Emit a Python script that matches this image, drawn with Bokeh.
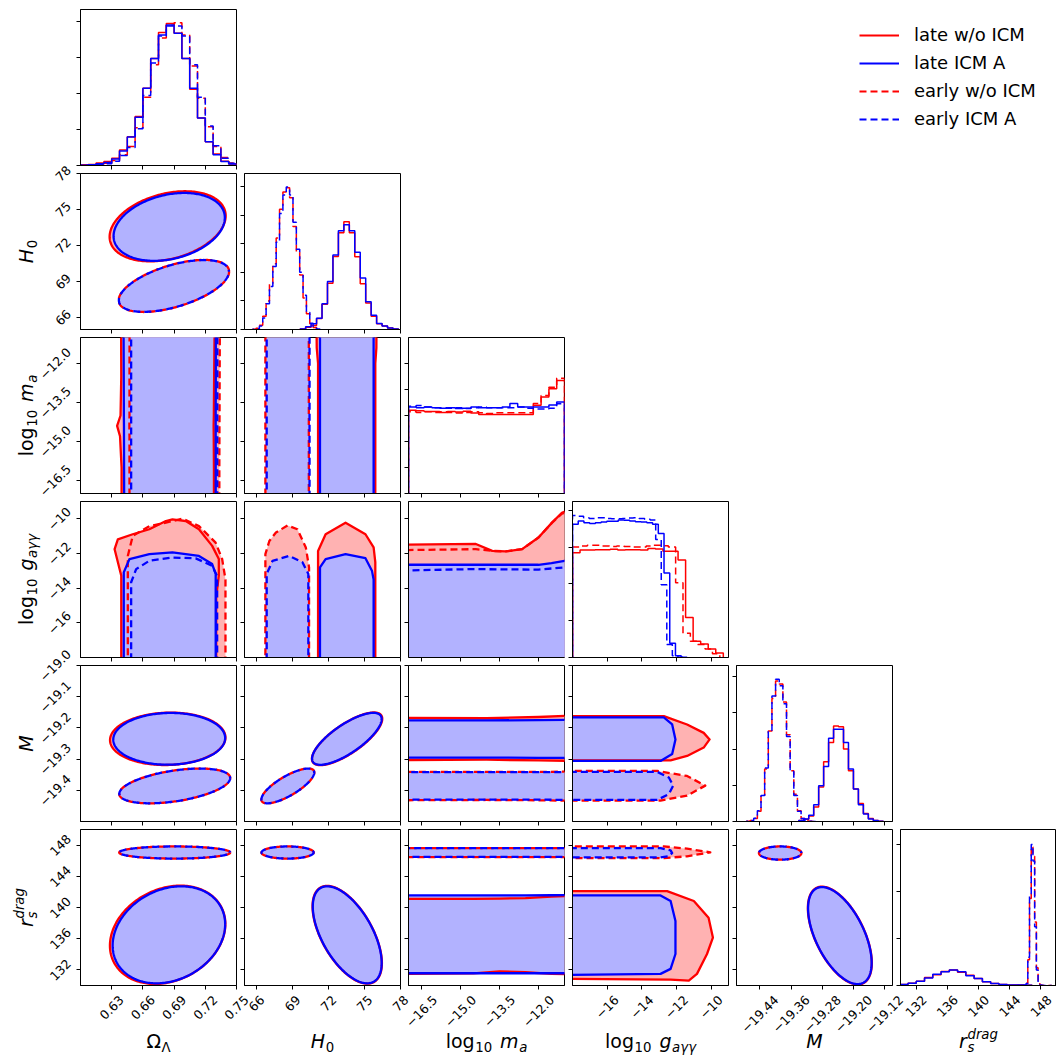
import math
import numpy as np
from bokeh.plotting import figure
from bokeh.models import Range1d, FixedTicker, Legend, LegendItem
from bokeh.core.properties import value
from bokeh.layouts import column, row
from bokeh.embed import file_html
from bokeh.resources import INLINE

# ----------------------------------------------------------------- axes data
om_range = [0.60, 0.75]
h0_range = [65.0, 78.0]
ma_range = [-17.0, -11.0]
g_range = [-18.0, -9.0]
M_row_range = [-19.5, -19.0]
M_col_range = [-19.5, -19.1]
rs_range = [130.0, 150.0]

om_ticks = [0.63, 0.66, 0.69, 0.72, 0.75]
om_tick_labels = ["0.63", "0.66", "0.69", "0.72", "0.75"]
h0_ticks = [66, 69, 72, 75, 78]
h0_tick_labels = ["66", "69", "72", "75", "78"]
ma_ticks = [-16.5, -15.0, -13.5, -12.0]
ma_tick_labels = ["\u221216.5", "\u221215.0", "\u221213.5", "\u221212.0"]
g_ticks = [-16, -14, -12, -10]
g_tick_labels = ["\u221216", "\u221214", "\u221212", "\u221210"]
M_row_ticks = [-19.4, -19.3, -19.2, -19.1, -19.0]
M_row_tick_labels = ["\u221219.4", "\u221219.3", "\u221219.2", "\u221219.1", "\u221219.0"]
M_col_ticks = [-19.44, -19.36, -19.28, -19.20, -19.12]
M_col_tick_labels = ["\u221219.44", "\u221219.36", "\u221219.28", "\u221219.20", "\u221219.12"]
rs_ticks = [132, 136, 140, 144, 148]
rs_tick_labels = ["132", "136", "140", "144", "148"]

legend_labels = ["late w/o ICM", "late ICM A", "early w/o ICM", "early ICM A"]

# ------------------------------------------------------------ 1D histograms
# (start, bin width, heights) ; heights in units of the unlabeled y ticks
om_hist_late_red = (0.60, 0.0075, [0.02, 0.03, 0.07, 0.11, 0.20, 0.43, 0.80, 1.36, 2.15, 2.98, 3.70, 3.95, 3.68, 2.98, 2.12, 1.32, 0.66, 0.32, 0.12, 0.04])
om_hist_late_blue = (0.60, 0.0075, [0.01, 0.02, 0.05, 0.08, 0.18, 0.40, 0.79, 1.34, 2.15, 2.98, 3.63, 3.91, 3.68, 2.98, 2.15, 1.32, 0.66, 0.30, 0.11, 0.04])
om_hist_early_red = (0.60, 0.0075, [0.01, 0.02, 0.04, 0.06, 0.14, 0.30, 0.53, 1.05, 1.90, 2.80, 3.55, 3.90, 3.97, 3.63, 2.77, 1.87, 1.08, 0.53, 0.22, 0.07])
om_hist_early_blue = (0.60, 0.0075, [0.01, 0.02, 0.03, 0.05, 0.12, 0.28, 0.50, 1.02, 1.95, 2.85, 3.60, 3.88, 3.88, 3.60, 2.80, 1.90, 1.10, 0.55, 0.20, 0.06])

h0_hist_late_red = (69.64, 0.455, [0.02, 0.08, 0.14, 0.38, 0.88, 1.62, 2.55, 3.38, 3.76, 3.38, 2.54, 1.60, 0.93, 0.46, 0.20, 0.12, 0.05, 0.02])
h0_hist_late_blue = (69.64, 0.455, [0.02, 0.10, 0.20, 0.39, 0.90, 1.68, 2.60, 3.45, 3.66, 3.45, 2.70, 1.80, 0.97, 0.50, 0.21, 0.12, 0.05, 0.02])
h0_hist_early_red = (65.68, 0.28, [0.01, 0.04, 0.15, 0.46, 1.00, 1.60, 2.30, 3.20, 4.20, 4.80, 4.95, 4.60, 3.60, 2.70, 1.90, 1.10, 0.55, 0.20, 0.07, 0.02])
h0_hist_early_blue = (65.68, 0.28, [0.01, 0.03, 0.12, 0.40, 0.90, 1.50, 2.20, 3.05, 4.05, 4.70, 4.98, 4.70, 3.75, 2.80, 2.00, 1.20, 0.60, 0.22, 0.08, 0.02])

ma_hist_late_red = (-17.0, 0.3, [3.20, 3.18, 3.15, 3.15, 3.12, 3.15, 3.13, 3.16, 3.10, 3.04, 3.04, 3.04, 3.04, 3.04, 3.04, 3.04, 3.39, 3.71, 4.03, 4.35])
ma_hist_late_blue = (-17.0, 0.3, [3.33, 3.30, 3.33, 3.30, 3.28, 3.30, 3.27, 3.28, 3.33, 3.30, 3.30, 3.30, 3.33, 3.46, 3.33, 3.33, 3.33, 3.33, 3.40, 3.52])
ma_hist_early_red = (-17.0, 0.3, [3.14, 3.12, 3.14, 3.12, 3.14, 3.12, 3.10, 3.12, 3.14, 3.11, 3.08, 3.11, 3.11, 3.11, 3.11, 3.11, 3.46, 3.77, 4.09, 4.43])
ma_hist_early_blue = (-17.0, 0.3, [3.36, 3.38, 3.33, 3.30, 3.30, 3.28, 3.30, 3.27, 3.30, 3.33, 3.30, 3.30, 3.30, 3.30, 3.33, 3.28, 3.25, 3.25, 3.28, 3.45])

g_hist_late_red = (-18.0, 0.435, [2.85, 2.92, 2.92, 2.93, 2.93, 2.94, 2.92, 2.93, 2.93, 2.92, 2.96, 2.95, 2.89, 2.89, 2.65, 1.09, 0.44, 0.37, 0.23, 0.12])
g_hist_late_blue = (-18.0, 0.33, [3.62, 3.71, 3.66, 3.64, 3.66, 3.68, 3.70, 3.70, 3.74, 3.73, 3.71, 3.69, 3.68, 3.66, 3.62, 3.37, 2.30, 0.39, 0.05, 0.01])
g_hist_early_red = (-18.0, 0.425, [3.00, 3.03, 3.05, 3.05, 3.03, 3.02, 3.03, 3.02, 3.00, 3.00, 3.03, 3.05, 3.04, 3.00, 2.03, 0.66, 0.44, 0.35, 0.23, 0.10])
g_hist_early_blue = (-18.0, 0.32, [3.86, 3.84, 3.80, 3.78, 3.80, 3.80, 3.78, 3.77, 3.77, 3.78, 3.79, 3.80, 3.78, 3.76, 3.74, 3.21, 1.98, 0.35, 0.05, 0.01])

M_hist_late_red = (-19.3403, 0.01274, [0.03, 0.06, 0.15, 0.40, 0.95, 1.65, 2.18, 2.64, 2.62, 2.00, 1.40, 0.90, 0.50, 0.22, 0.08, 0.03, 0.01])
M_hist_late_blue = (-19.3403, 0.01274, [0.03, 0.07, 0.17, 0.46, 0.99, 1.52, 2.30, 2.55, 2.55, 2.18, 1.45, 0.90, 0.46, 0.21, 0.07, 0.03, 0.01])
M_hist_early_red = (-19.4745, 0.00934, [0.01, 0.03, 0.08, 0.28, 0.70, 1.45, 2.50, 3.40, 3.88, 3.80, 3.30, 2.40, 1.40, 0.75, 0.30, 0.08, 0.02, 0.01, 0.0])
M_hist_early_blue = (-19.4745, 0.00934, [0.01, 0.03, 0.09, 0.30, 0.72, 1.48, 2.52, 3.47, 3.93, 3.75, 3.25, 2.35, 1.38, 0.72, 0.28, 0.08, 0.02, 0.01, 0.0])

rs_hist_late_red = (129.9, 1.06, [0.02, 0.05, 0.09, 0.17, 0.23, 0.30, 0.33, 0.28, 0.22, 0.15, 0.08, 0.04, 0.02, 0.01, 0.01, 0.005])
rs_hist_late_blue = (129.9, 1.06, [0.02, 0.05, 0.09, 0.16, 0.24, 0.29, 0.33, 0.29, 0.21, 0.15, 0.08, 0.04, 0.02, 0.01, 0.01, 0.005])
rs_hist_early_red = (145.0, 0.22, [0.0, 0.002, 0.003, 0.005, 0.01, 0.05, 0.55, 1.85, 2.95, 2.75, 1.35, 0.38, 0.07, 0.01, 0.003, 0.0, 0.0, 0.0, 0.0, 0.0])
rs_hist_early_blue = (145.0, 0.22, [0.0, 0.001, 0.003, 0.005, 0.01, 0.04, 0.60, 1.95, 3.00, 2.65, 1.25, 0.33, 0.06, 0.01, 0.003, 0.0, 0.0, 0.0, 0.0, 0.0])

hist_top = [4.34, 5.45, 6.0, 4.24, 4.31, 3.32]
hist_ticks = [[0, 1, 2, 3, 4], [0, 1, 2, 3, 4, 5], [0, 1, 2, 3, 4, 5], [0, 1, 2, 3, 4], [0, 1, 2, 3, 4], [0, 1, 2, 3]]

# ------------------------------------------------ 2D contours (one level)
# elliptical contours: (x centre, y centre, x half-extent, y half-extent, correlation)
om_h0_late_red = [0.6838, 73.60, 0.0558, 2.92, 0.30]
om_h0_late_blue = [0.6853, 73.55, 0.0535, 2.83, 0.27]
om_h0_early_red = [0.6898, 68.63, 0.0531, 2.17, 0.55]
om_h0_early_blue = [0.6898, 68.63, 0.0529, 2.16, 0.55]

om_M_late_red = [0.6839, -19.235, 0.0555, 0.0840, 0.05]
om_M_late_blue = [0.6853, -19.235, 0.0538, 0.0830, 0.03]
om_M_early_red = [0.6906, -19.386, 0.0534, 0.0558, 0.45]
om_M_early_blue = [0.6906, -19.386, 0.0533, 0.0557, 0.45]

om_rs_late_red = [0.6838, 136.50, 0.0555, 6.30, 0.22]
om_rs_late_blue = [0.6850, 136.50, 0.0541, 6.22, 0.22]
om_rs_early_red = [0.6906, 147.05, 0.0534, 0.78, 0.0]
om_rs_early_blue = [0.6906, 147.05, 0.0533, 0.78, 0.0]

h0_M_late_red = [73.55, -19.235, 2.93, 0.0845, 0.76]
h0_M_late_blue = [73.53, -19.235, 2.90, 0.0833, 0.76]
h0_M_early_red = [68.61, -19.386, 2.21, 0.0558, 0.77]
h0_M_early_blue = [68.61, -19.386, 2.20, 0.0557, 0.77]

h0_rs_late_red = [73.56, 136.50, 2.89, 6.27, -0.58]
h0_rs_late_blue = [73.56, 136.50, 2.87, 6.22, -0.58]
h0_rs_early_red = [68.59, 147.05, 2.18, 0.78, 0.0]
h0_rs_early_blue = [68.59, 147.05, 2.17, 0.78, 0.0]

M_rs_late_red = [-19.235, 136.40, 0.0820, 6.27, -0.56]
M_rs_late_blue = [-19.235, 136.40, 0.0815, 6.22, -0.56]
M_rs_early_red = [-19.388, 146.98, 0.0545, 0.85, 0.0]
M_rs_early_blue = [-19.388, 146.98, 0.0543, 0.85, 0.0]

# band contours (the parameter on one axis is unconstrained)
om_ma_y = [-17.5, -16.0, -14.8, -14.4, -14.0, -12.5, -10.5]
om_ma_late_red_left = [0.6395, 0.6395, 0.6380, 0.6352, 0.6385, 0.6392, 0.6390]
om_ma_late_red_right = [0.7283, 0.7283, 0.7281, 0.7280, 0.7282, 0.7285, 0.7290]
om_ma_late_blue_left = [0.6420, 0.6419, 0.6418, 0.6418, 0.6417, 0.6416, 0.6414]
om_ma_late_blue_right = [0.7300, 0.7300, 0.7300, 0.7300, 0.7300, 0.7301, 0.7301]
om_ma_early_red_left = [0.6471, 0.6471, 0.6471, 0.6470, 0.6471, 0.6471, 0.6472]
om_ma_early_red_right = [0.7335, 0.7335, 0.7336, 0.7336, 0.7337, 0.7338, 0.7340]
om_ma_early_blue_left = [0.6487, 0.6487, 0.6487, 0.6487, 0.6487, 0.6487, 0.6487]
om_ma_early_blue_right = [0.7315, 0.7315, 0.7315, 0.7315, 0.7315, 0.7316, 0.7316]

h0_ma_y = [-17.5, -12.0, -11.4, -10.5]
h0_ma_late_red_left = [71.13, 71.13, 71.02, 71.00]
h0_ma_late_red_right = [75.90, 75.90, 75.99, 76.00]
h0_ma_late_blue_left = [71.29, 71.29, 71.29, 71.29]
h0_ma_late_blue_right = [75.76, 75.76, 75.76, 75.76]
h0_ma_early_red_left = [66.74, 66.74, 66.74, 66.74]
h0_ma_early_red_right = [70.36, 70.36, 70.36, 70.36]
h0_ma_early_blue_left = [66.85, 66.85, 66.85, 66.85]
h0_ma_early_blue_right = [70.42, 70.42, 70.42, 70.42]

ma_M_x = [-17.5, -14.0, -12.0, -10.5]
ma_M_late_red_top = [-19.168, -19.169, -19.165, -19.160]
ma_M_late_red_bottom = [-19.303, -19.302, -19.304, -19.306]
ma_M_late_blue_top = [-19.176, -19.176, -19.175, -19.174]
ma_M_late_blue_bottom = [-19.295, -19.295, -19.296, -19.296]
ma_M_early_red_top = [-19.341, -19.341, -19.341, -19.340]
ma_M_early_red_bottom = [-19.432, -19.431, -19.432, -19.434]
ma_M_early_blue_top = [-19.342, -19.342, -19.342, -19.342]
ma_M_early_blue_bottom = [-19.430, -19.430, -19.430, -19.431]

ma_rs_x = [-17.5, -14.5, -13.5, -12.5, -11.5, -10.5]
ma_rs_late_red_top = [141.12, 141.10, 141.15, 141.20, 141.40, 141.50]
ma_rs_late_red_bottom = [131.49, 131.55, 131.82, 131.70, 131.50, 131.45]
ma_rs_late_blue_top = [141.55, 141.55, 141.56, 141.56, 141.57, 141.58]
ma_rs_late_blue_bottom = [131.57, 131.57, 131.57, 131.57, 131.57, 131.57]
ma_rs_early_red_top = [147.62, 147.62, 147.62, 147.62, 147.62, 147.62]
ma_rs_early_red_bottom = [146.47, 146.47, 146.47, 146.46, 146.46, 146.45]
ma_rs_early_blue_top = [147.60, 147.60, 147.60, 147.60, 147.60, 147.60]
ma_rs_early_blue_bottom = [146.49, 146.49, 146.49, 146.49, 146.49, 146.49]

# contours involving log10 g (open on the low-g side)
om_g_late_red_x = [0.6392, 0.6392, 0.6328, 0.6359, 0.6502, 0.6662, 0.6821, 0.6884, 0.7012, 0.7139, 0.7266, 0.7330, 0.7330, 0.7305, 0.7305]
om_g_late_red_y = [-18.5, -13.28, -11.75, -11.18, -10.89, -10.60, -10.13, -10.03, -10.13, -10.60, -11.56, -12.32, -13.28, -14.5, -18.5]
om_g_early_red_x = [0.6455, 0.6455, 0.6502, 0.6662, 0.6821, 0.6980, 0.7139, 0.7299, 0.7362, 0.7394, 0.7394]
om_g_early_red_y = [-18.5, -12.14, -10.99, -10.42, -10.22, -9.99, -10.42, -11.37, -12.32, -13.5, -18.5]
om_g_late_blue_x = [0.6416, 0.6416, 0.6471, 0.6662, 0.6884, 0.7139, 0.7266, 0.7300, 0.7300]
om_g_late_blue_y = [-18.5, -13.09, -12.32, -12.04, -11.94, -12.14, -12.61, -13.18, -18.5]
om_g_early_blue_x = [0.6487, 0.6487, 0.6535, 0.6662, 0.6884, 0.7108, 0.7266, 0.7314, 0.7314]
om_g_early_blue_y = [-18.5, -13.66, -12.90, -12.42, -12.23, -12.28, -12.71, -13.30, -18.5]

h0_g_late_red_x = [71.13, 71.13, 71.76, 73.42, 75.08, 75.76, 75.90, 75.90]
h0_g_late_red_y = [-18.5, -11.85, -10.89, -10.22, -10.89, -11.65, -12.50, -18.5]
h0_g_early_red_x = [66.74, 66.74, 67.07, 67.62, 68.59, 69.41, 70.11, 70.38, 70.38]
h0_g_early_red_y = [-18.5, -12.04, -11.28, -10.79, -10.38, -10.60, -11.65, -12.80, -18.5]
h0_g_late_blue_x = [71.29, 71.29, 71.76, 73.42, 75.08, 75.62, 75.76, 75.76]
h0_g_late_blue_y = [-18.5, -12.80, -12.32, -12.04, -12.27, -12.99, -13.50, -18.5]
h0_g_early_blue_x = [66.85, 66.85, 67.34, 68.73, 69.83, 70.32, 70.32]
h0_g_early_blue_y = [-18.5, -13.18, -12.42, -12.14, -12.51, -13.18, -18.5]

ma_g_late_red_x = [-17.5, -14.41, -13.78, -13.27, -12.63, -12.0, -11.48, -11.10, -10.5, -10.5, -17.5]
ma_g_late_red_y = [-11.50, -11.45, -11.85, -11.88, -11.75, -11.08, -10.22, -9.65, -9.30, -18.5, -18.5]
ma_g_early_red_x = [-17.5, -14.41, -13.78, -13.27, -12.63, -12.0, -11.48, -11.10, -10.5, -10.5, -17.5]
ma_g_early_red_y = [-11.81, -11.75, -11.85, -11.88, -11.75, -11.08, -10.22, -9.70, -9.40, -18.5, -18.5]
ma_g_late_blue_x = [-17.5, -12.0, -11.5, -11.0, -10.5, -10.5, -17.5]
ma_g_late_blue_y = [-12.65, -12.65, -12.55, -12.42, -12.38, -18.5, -18.5]
ma_g_early_blue_x = [-17.5, -14.5, -12.0, -11.0, -10.5, -10.5, -17.5]
ma_g_early_blue_y = [-12.99, -12.90, -12.93, -12.80, -12.75, -18.5, -18.5]

g_M_late_red_x = [-18.5, -12.73, -11.39, -10.43, -10.09, -10.43, -11.39, -12.34, -18.5]
g_M_late_red_y = [-19.162, -19.162, -19.189, -19.216, -19.237, -19.263, -19.290, -19.304, -19.304]
g_M_early_red_x = [-18.5, -13.11, -11.39, -10.34, -11.39, -12.92, -18.5]
g_M_early_red_y = [-19.338, -19.338, -19.354, -19.385, -19.417, -19.433, -19.433]
g_M_late_blue_x = [-18.5, -12.73, -12.25, -12.06, -12.25, -12.92, -18.5]
g_M_late_blue_y = [-19.166, -19.166, -19.189, -19.237, -19.284, -19.306, -19.306]
g_M_early_blue_x = [-18.5, -13.11, -12.44, -12.19, -12.44, -13.11, -18.5]
g_M_early_blue_y = [-19.341, -19.341, -19.359, -19.385, -19.412, -19.431, -19.431]

g_rs_late_red_x = [-18.5, -12.54, -11.00, -10.15, -9.90, -10.24, -10.82, -11.29, -12.34, -18.5]
g_rs_late_red_y = [142.10, 142.10, 140.83, 138.70, 136.15, 134.04, 131.49, 130.63, 130.76, 130.85]
g_rs_early_red_x = [-18.5, -12.73, -11.39, -10.05, -11.39, -12.73, -18.5]
g_rs_early_red_y = [147.83, 147.83, 147.54, 147.07, 146.56, 146.34, 146.34]
g_rs_late_blue_x = [-18.5, -12.92, -12.34, -12.06, -12.06, -12.34, -12.92, -18.5]
g_rs_late_blue_y = [141.55, 141.55, 140.83, 138.28, 134.04, 132.13, 131.49, 131.36]
g_rs_early_blue_x = [-18.5, -12.92, -12.34, -12.25, -12.44, -12.92, -18.5]
g_rs_early_blue_y = [147.62, 147.62, 147.32, 146.98, 146.56, 146.43, 146.43]

# ----------------------------------------------------------------- styling
RED, BLUE = "#ff0000", "#0000ff"
RED_FILL, BLUE_FILL = "#ffb2b2", "#b2b2ff"
FONT = "DejaVu Sans"
DASH = "7 4"
SERIES = ["late_red", "early_red", "late_blue", "early_blue"]
STYLE = {
    "late_red": dict(color=RED, fill=RED_FILL, dash="solid", offset=0),
    "early_red": dict(color=RED, fill=RED_FILL, dash=DASH, offset=0),
    "late_blue": dict(color=BLUE, fill=BLUE_FILL, dash="solid", offset=0),
    "early_blue": dict(color=BLUE, fill=BLUE_FILL, dash=DASH, offset=5),
}

TOTAL = 1056
FRAME = 156
PITCH = 164
TOP_BORDER = 9
TOP_H = TOP_BORDER + FRAME + 5         # height of first row of panels
LS_W = 76                              # left strip (y tick labels + y axis labels)
COL_RANGE = [om_range, h0_range, ma_range, g_range, M_col_range, rs_range]
ROW_RANGE = [None, h0_range, ma_range, g_range, M_row_range, rs_range]
COL_TICKS = [(om_ticks, om_tick_labels), (h0_ticks, h0_tick_labels), (ma_ticks, ma_tick_labels),
             (g_ticks, g_tick_labels), (M_col_ticks, M_col_tick_labels), (rs_ticks, rs_tick_labels)]
ROW_TICKS = [None, (h0_ticks, h0_tick_labels), (ma_ticks, ma_tick_labels), (g_ticks, g_tick_labels),
             (M_row_ticks, M_row_tick_labels), (rs_ticks, rs_tick_labels)]

T = np.linspace(0.0, 2.0 * np.pi, 241)


def ellipse(par):
    cx, cy, sx, sy, rho = par
    xs = cx + sx * np.cos(T)
    ys = cy + sy * (rho * np.cos(T) + np.sqrt(1.0 - rho ** 2) * np.sin(T))
    return list(xs), list(ys)


def vband(ys, left, right):
    return list(left) + list(right)[::-1], list(ys) + list(ys)[::-1]


def hband(xs, bottom, top):
    return list(xs) + list(xs)[::-1], list(bottom) + list(top)[::-1]


G = globals()
PANELS = {}
for (i, j, name, kind) in [(1, 0, "om_h0", "ell"), (4, 0, "om_M", "ell"), (5, 0, "om_rs", "ell"),
                           (4, 1, "h0_M", "ell"), (5, 1, "h0_rs", "ell"), (5, 4, "M_rs", "ell"),
                           (2, 0, "om_ma", "v"), (2, 1, "h0_ma", "v"),
                           (4, 2, "ma_M", "h"), (5, 2, "ma_rs", "h"),
                           (3, 0, "om_g", "poly"), (3, 1, "h0_g", "poly"), (3, 2, "ma_g", "poly"),
                           (4, 3, "g_M", "poly"), (5, 3, "g_rs", "poly")]:
    cs = []
    for s in SERIES:
        if kind == "ell":
            xy = ellipse(G[f"{name}_{s}"])
        elif kind == "v":
            xy = vband(G[f"{name}_y"], G[f"{name}_{s}_left"], G[f"{name}_{s}_right"])
        elif kind == "h":
            xy = hband(G[f"{name}_x"], G[f"{name}_{s}_bottom"], G[f"{name}_{s}_top"])
        else:
            xy = (G[f"{name}_{s}_x"], G[f"{name}_{s}_y"])
        cs.append((s, xy))
    PANELS[(i, j)] = cs

HISTS = [
    [om_hist_late_red, om_hist_early_red, om_hist_late_blue, om_hist_early_blue],
    [h0_hist_late_red, h0_hist_early_red, h0_hist_late_blue, h0_hist_early_blue],
    [ma_hist_late_red, ma_hist_early_red, ma_hist_late_blue, ma_hist_early_blue],
    [g_hist_late_red, g_hist_early_red, g_hist_late_blue, g_hist_early_blue],
    [M_hist_late_red, M_hist_early_red, M_hist_late_blue, M_hist_early_blue],
    [rs_hist_late_red, rs_hist_early_red, rs_hist_late_blue, rs_hist_early_blue],
]


def step_xy(h):
    start, width, heights = h
    xs, ys = [start], [0.0]
    for k, v in enumerate(heights):
        xs += [start + k * width, start + (k + 1) * width]
        ys += [v, v]
    xs.append(start + len(heights) * width)
    ys.append(0.0)
    return xs, ys


def new_fig(i, j, xr, yr):
    eps_x = (xr[1] - xr[0]) * 1e-9
    eps_y = (yr[1] - yr[0]) * 1e-9
    p = figure(frame_width=FRAME, frame_height=FRAME,
               x_range=Range1d(xr[0] - eps_x, xr[1] + eps_x),
               y_range=Range1d(yr[0] - eps_y, yr[1] + eps_y),
               output_backend="svg", toolbar_location=None, tools="",
               min_border_left=4,
               min_border_right=0 if j == 5 else 4,
               min_border_top=TOP_BORDER if i == 0 else 3,
               min_border_bottom=5)
    p.xgrid.visible = False
    p.ygrid.visible = False
    p.outline_line_color = "black"
    p.outline_line_width = 1
    p.outline_line_alpha = 1
    p.background_fill_color = "white"
    p.border_fill_color = "white"
    return p


def style_axis(ax, ticks):
    ax.ticker = FixedTicker(ticks=[float(t) for t in ticks])
    ax.axis_line_color = "black"
    ax.axis_line_width = 1
    ax.major_tick_line_color = "black"
    ax.major_tick_line_width = 1
    ax.major_tick_out = 4
    ax.major_tick_in = 0
    ax.minor_tick_line_color = None
    ax.axis_label = None
    ax.major_label_overrides = {float(t): "" for t in ticks}
    ax.major_label_text_font_size = "0px"
    ax.major_label_standoff = 0


figs = {}
for i in range(6):
    for j in range(i + 1):
        xr = COL_RANGE[j]
        if i == j:
            yr = [0.0, hist_top[i]]
            p = new_fig(i, j, xr, yr)
            for s, h in zip(SERIES, HISTS[i]):
                st = STYLE[s]
                xs, ys = step_xy(h)
                p.line(xs, ys, line_color=st["color"], line_width=1.5, line_dash=st["dash"],
                       line_dash_offset=st["offset"])
            style_axis(p.yaxis[0], hist_ticks[i])
        else:
            yr = ROW_RANGE[i]
            p = new_fig(i, j, xr, yr)
            conts = PANELS[(i, j)]
            for s, (xs, ys) in conts:
                p.patch(xs, ys, fill_color=STYLE[s]["fill"], line_color=None)
            for s, (xs, ys) in conts:
                st = STYLE[s]
                p.line(list(xs) + [xs[0]], list(ys) + [ys[0]], line_color=st["color"], line_width=2.3,
                       line_dash=st["dash"], line_dash_offset=st["offset"], line_join="round")
            style_axis(p.yaxis[0], ROW_TICKS[i][0])
        style_axis(p.xaxis[0], COL_TICKS[j][0])
        figs[(i, j)] = p

# ------------------------------------------------------- tick/axis labels
TICK_FS = 12.5
CHAR_W = {"\u03a9": 0.764, "\u039b": 0.684, "H": 0.752, "l": 0.278, "o": 0.612, "g": 0.635, "m": 0.974,
          "a": 0.613, "\u03b3": 0.592, "M": 0.863, "r": 0.411, "s": 0.521, "d": 0.635, ".": 0.318,
          "\u2212": 0.838}
MAIN_SIZE, SUB_SIZE = 19.0, 13.3


def text_width(s, size):
    return sum(CHAR_W.get(c, 0.636) for c in s) * size


def rotated_side(label):
    return (text_width(label, TICK_FS) + 0.95 * TICK_FS) / math.sqrt(2.0)


LABEL_PIECES = [
    [("\u03a9", False, "main"), ("\u039b", False, "sub")],
    [("H", True, "main"), ("0", False, "sub")],
    [("log", False, "main"), ("10", False, "sub"), (" ", False, "gap"), ("m", True, "main"), ("a", True, "sub")],
    [("log", False, "main"), ("10", False, "sub"), (" ", False, "gap"), ("g", True, "main"), ("a\u03b3\u03b3", True, "sub")],
    [("M", True, "main")],
    [("r", True, "main"), ("s", True, "sub"), ("drag", True, "sup")],
]

# vertical shift of the centre line of each piece relative to the main text (px, up = +)
ROLE_SHIFT = {"main": 0.0, "sub": -6.0, "sup": 6.6}


def layout_pieces(pieces):
    out, cursor, sub_start = [], 0.0, None
    for text, italic, role in pieces:
        if role == "gap":
            cursor += 0.42 * MAIN_SIZE
            continue
        size = MAIN_SIZE if role == "main" else SUB_SIZE
        w = text_width(text, size)
        if role == "sup" and sub_start is not None:
            x = sub_start
            cursor = max(cursor, x + w)
        else:
            x = cursor + (0.6 if role == "sub" else 0.0)
            cursor = x + w
            if role == "sub":
                sub_start = x
        out.append((text, italic, size, x, ROLE_SHIFT[role]))
    return out, cursor


def strip_fig(fw, fh, left_border):
    p = figure(frame_width=fw, frame_height=fh, x_range=Range1d(0, fw), y_range=Range1d(0, fh),
               x_axis_type=None, y_axis_type=None, output_backend="svg", toolbar_location=None, tools="",
               min_border_left=left_border, min_border_right=0, min_border_top=0, min_border_bottom=0)
    p.outline_line_color = None
    p.background_fill_color = "white"
    p.border_fill_color = "white"
    return p


# left strip: y tick labels and y axis labels of rows 1..5 (spans all rows)
LS_H = TOP_H + 5 * PITCH
ls = strip_fig(LS_W, LS_H, 0)
yr_extra = {}
row_bottom_px = {}
for i in range(1, 6):
    lo, hi = ROW_RANGE[i]
    top_px = TOP_H + PITCH * (i - 1) + 3
    bottom_px = LS_H - top_px - FRAME
    row_bottom_px[i] = bottom_px
    sc = (hi - lo) / FRAME
    yr_extra[f"r{i}"] = Range1d(lo - bottom_px * sc, lo - bottom_px * sc + LS_H * sc)
ls.extra_y_ranges = yr_extra
for i in range(1, 6):
    ticks, labels = ROW_TICKS[i]
    xs = [LS_W - 3.5 - rotated_side(l) / 2.0 for l in labels]
    ls.text(x=xs, y=ticks, text=labels, angle=math.pi / 4, text_align="center", text_baseline="middle",
            text_font=value(FONT), text_font_size=value(f"{TICK_FS}px"), text_color="black",
            y_range_name=f"r{i}")
    items, W = layout_pieces(LABEL_PIECES[i])
    yc = row_bottom_px[i] + FRAME / 2.0
    for text, italic, size, x, shift in items:
        ls.text(x=[25.5 - shift], y=[yc - W / 2.0 + x], text=[text], angle=math.pi / 2,
                text_align="left", text_baseline="middle", text_font=value(FONT),
                text_font_size=value(f"{size}px"), text_font_style="italic" if italic else "normal",
                text_color="black")

# bottom strip: x tick labels and x axis labels of columns 0..5
BS_W = 5 * PITCH + FRAME
BS_H = TOTAL - LS_H
bs = strip_fig(BS_W, BS_H, LS_W + 4)
xr_extra = {}
for j in range(6):
    lo, hi = COL_RANGE[j]
    sc = (hi - lo) / FRAME
    xr_extra[f"c{j}"] = Range1d(lo - PITCH * j * sc, lo - PITCH * j * sc + BS_W * sc)
bs.extra_x_ranges = xr_extra
for j in range(6):
    ticks, labels = COL_TICKS[j]
    ys = [BS_H - 3.0 - rotated_side(l) / 2.0 for l in labels]
    bs.text(x=ticks, y=ys, text=labels, angle=math.pi / 4, text_align="center", text_baseline="middle",
            text_font=value(FONT), text_font_size=value(f"{TICK_FS}px"), text_color="black",
            x_range_name=f"c{j}")
    items, W = layout_pieces(LABEL_PIECES[j])
    xc = PITCH * j + FRAME / 2.0
    for text, italic, size, x, shift in items:
        bs.text(x=[xc - W / 2.0 + x], y=[15.5 + shift], text=[text],
                text_align="left", text_baseline="middle", text_font=value(FONT),
                text_font_size=value(f"{size}px"), text_font_style="italic" if italic else "normal",
                text_color="black")

# legend panel (upper-right empty area)
LG_W = TOTAL - LS_W - (4 + FRAME + 4) - 4
lg = figure(frame_width=LG_W, frame_height=FRAME, x_range=Range1d(0, 1), y_range=Range1d(0, 1),
            output_backend="svg", toolbar_location=None, tools="",
            x_axis_type=None, y_axis_type=None,
            min_border_left=4, min_border_right=0, min_border_top=TOP_BORDER, min_border_bottom=5)
lg.outline_line_color = None
lg.background_fill_color = "white"
lg.border_fill_color = "white"
items = []
for lab, s in zip(legend_labels, ["late_red", "late_blue", "early_red", "early_blue"]):
    st = STYLE[s]
    r = lg.line([2.0, 3.0], [2.0, 2.0], line_color=st["color"], line_width=2, line_dash=st["dash"])
    items.append(LegendItem(label=lab, renderers=[r]))
legend = Legend(items=items, location=(615, 36), label_text_font=FONT, label_text_font_size="18px",
                label_text_color="black", glyph_width=40, glyph_height=20, label_height=20,
                label_standoff=15, spacing=7, padding=0, margin=0,
                border_line_color=None, background_fill_alpha=0)
lg.add_layout(legend)

top_row = row(figs[(0, 0)], lg)
mid_rows = [row(*[figs[(i, j)] for j in range(i + 1)]) for i in range(1, 6)]
upper = row(ls, column(top_row, *mid_rows))
layout = column(upper, bs)

open("out.html", "w").write(file_html(layout, INLINE))
